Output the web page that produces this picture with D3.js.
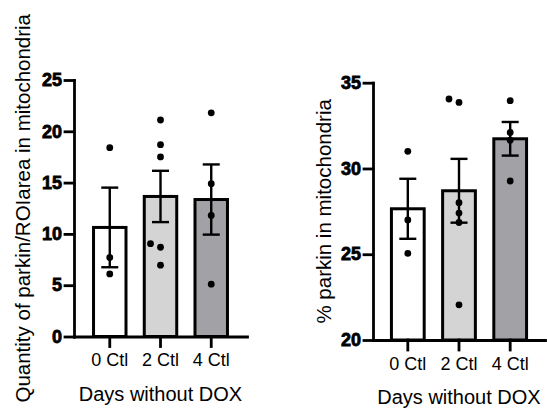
<!DOCTYPE html>
<html>
<head>
<meta charset="utf-8">
<script src="https://cdnjs.cloudflare.com/ajax/libs/d3/7.8.5/d3.min.js"></script>
<style>
body { margin: 0; background: #fff; }
svg { display: block; font-family: "Liberation Sans", Arial, sans-serif; }
.ylab { font-weight: 700; }
</style>
</head>
<body>
<div id="vis"></div>
<script>
var width = 547,
    height = 414;

// data
var categories = ["0 Ctl", "2 Ctl", "4 Ctl"];
var barColors = ["#ffffff", "#d4d4d4", "#a2a1a6"];

var leftMeans = [10.63, 13.65, 13.35];
var leftSem = [3.88, 2.5, 3.42];
var leftPoints = [
  [18.4, 7.7, 6.1],
  [21.1, 18.7, 17.5, 8.7, 9.05, 6.95],
  [21.8, 14.9, 11.8, 5.1]
];
var leftTicks = [0, 5, 10, 15, 20, 25];

var rightMeans = [27.65, 28.7, 31.73];
var rightSem = [1.75, 1.86, 0.98];
var rightPoints = [
  [31.0, 27.0, 25.05],
  [33.85, 34.05, 28.0, 27.4, 26.85, 22.05],
  [33.95, 32.1, 31.65, 29.27]
];
var rightTicks = [20, 25, 30, 35];

var svg = d3.select("#vis").append("svg")
    .attr("width", width)
    .attr("height", height);

//----------one panel---------//
function panel(opt) {
  var g = svg.append("g");

  var x = d3.scaleBand().domain(categories)
      .range([opt.x0, opt.x1])
      .paddingInner(0.36)
      .paddingOuter(opt.outer);
  var y = d3.scaleLinear().domain(opt.domain).range([opt.y0, opt.y1]);

  // bars
  g.selectAll(".bar")
    .data(opt.means)
    .enter().append("rect")
      .attr("x", function(d, i) { return x(categories[i]); })
      .attr("y", function(d) { return y(d); })
      .attr("width", x.bandwidth())
      .attr("height", function(d) { return y(opt.domain[0]) - y(d); })
      .style("fill", function(d, i) { return barColors[i]; })
      .style("stroke", "#000")
      .style("stroke-width", 3);

  // error bars (mean +/- sem)
  opt.means.forEach(function(m, i) {
    var cx = x(categories[i]) + x.bandwidth() / 2;
    var top = y(m + opt.sem[i]), bot = y(m - opt.sem[i]);
    var eb = g.append("g").style("stroke", "#000").style("stroke-width", 2.4);
    eb.append("line").attr("x1", cx).attr("x2", cx).attr("y1", top).attr("y2", bot);
    eb.append("line").attr("x1", cx - 8.5).attr("x2", cx + 8.5).attr("y1", top).attr("y2", top);
    eb.append("line").attr("x1", cx - 8.5).attr("x2", cx + 8.5).attr("y1", bot).attr("y2", bot);
  });

  // individual points, nudged sideways when they would overlap
  var shifts = [0, -10, 10];
  opt.points.forEach(function(pts, i) {
    var cx = x(categories[i]) + x.bandwidth() / 2;
    var placed = [];
    pts.forEach(function(v) {
      var py = y(v);
      var n = placed.filter(function(p) { return Math.abs(p - py) < 6; }).length;
      placed.push(py);
      g.append("circle")
        .attr("cx", cx + shifts[Math.min(n, 2)])
        .attr("cy", py)
        .attr("r", 3.4)
        .style("fill", "#000");
    });
  });

  // y axis
  var ya = g.append("g")
    .attr("transform", "translate(" + opt.x0 + ",0)")
    .attr("font-family", "Liberation Sans, Arial, sans-serif")
    .call(d3.axisLeft(y).tickValues(opt.ticks).tickSize(9).tickSizeOuter(0).tickPadding(3));
  ya.attr("font-size", 18).attr("font-weight", "bold");
  ya.selectAll("text")
    .attr("class", "ylab")
    .attr("fill", "#000")
    .attr("stroke", "#000")
    .attr("stroke-width", 0.8);

  // x axis
  var xa = g.append("g")
    .attr("transform", "translate(0," + opt.y0 + ")")
    .attr("font-family", "Liberation Sans, Arial, sans-serif")
    .call(d3.axisBottom(x).tickSize(10).tickSizeOuter(0).tickPadding(7));
  xa.attr("font-size", 18);
  xa.selectAll("text").attr("fill", "#000");

  g.selectAll(".domain, .tick line")
    .style("stroke", "#000")
    .style("stroke-width", 2.8)
    .style("stroke-linecap", "square");

  // titles
  g.append("text")
    .attr("x", (opt.x0 + opt.x1) / 2)
    .attr("y", opt.y0 + 64)
    .attr("text-anchor", "middle")
    .style("font-size", "20px")
    .text("Days without DOX");

  g.append("text")
    .attr("transform", "translate(" + opt.titleX + "," + ((opt.y0 + opt.y1) / 2) + ") rotate(-90)")
    .attr("text-anchor", "middle")
    .style("font-size", "20.5px")
    .text(opt.title);
}

panel({
  x0: 74, x1: 247, y0: 336.5, y1: 80, outer: 0.385,
  domain: [0, 25], ticks: leftTicks,
  means: leftMeans, sem: leftSem, points: leftPoints,
  titleX: 30, title: "Quantity of parkin/ROIarea in mitochondria"
});

panel({
  x0: 373, x1: 545, y0: 340, y1: 82.7, outer: 0.36,
  domain: [20, 35], ticks: rightTicks,
  means: rightMeans, sem: rightSem, points: rightPoints,
  titleX: 331, title: "% parkin in mitochondria"
});
</script>
</body>
</html>
